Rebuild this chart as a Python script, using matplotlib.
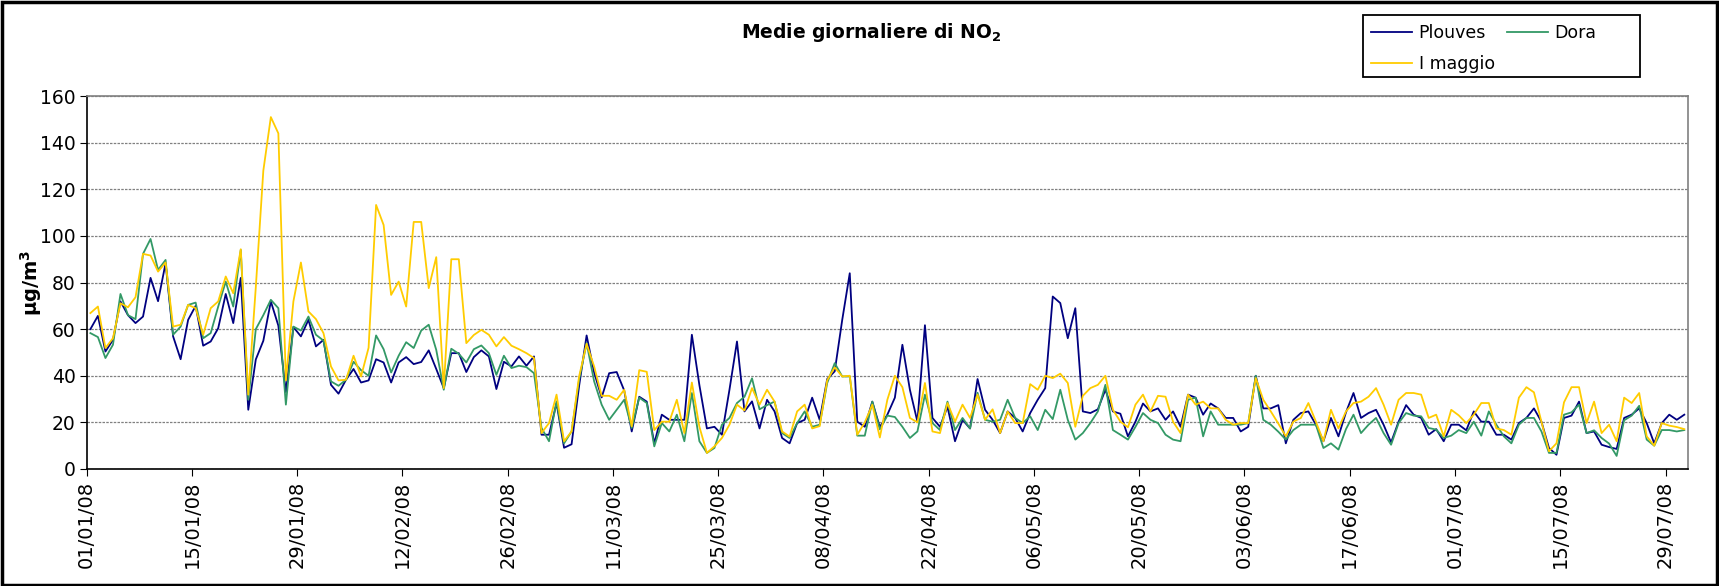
import matplotlib.pyplot as plt
import matplotlib.patches as mpatches
import numpy as np

# valori giornalieri NO2 (µg/m3), dal 01/01/08 al 31/07/08
plouves = [
    60, 65.7, 50.4, 55.4, 71.9, 66, 62.6, 65.4, 82, 72,
    88.3, 56.9, 47.1, 64, 70, 52.9, 54.7, 60.4, 75.1, 62.6,
    82, 25.4, 47, 55, 71.9, 61.5, 33, 60.9, 56.9, 64,
    52.6, 55.4, 36.1, 32.3, 38.3, 42.9, 37.1, 38, 47.1, 45.7,
    37.1, 45.7, 48, 45, 45.9, 50.9, 42.9, 34.7, 49.7, 49.7,
    41.6, 48, 50.9, 48.3, 34.3, 46, 44, 48.3, 44.3, 48.3,
    14.7, 14.7, 28.3, 9.1, 10.6, 35.6, 57.3, 41.4, 30.7, 41.1,
    41.6, 33.7, 16.1, 31, 28.9, 11, 23.3, 21.1, 21.1, 21.1,
    57.6, 36, 17.4, 18.1, 14.7, 34, 54.7, 24.7, 29, 17.4,
    29.7, 24.7, 13.3, 11, 19.7, 21.1, 30.6, 21.1, 38.6, 41.9,
    64, 84, 20.3, 18.1, 28.9, 18, 23.3, 30.6, 53.3, 34,
    20.3, 61.7, 21.9, 18.1, 26.7, 11.9, 21.1, 17.4, 38.6, 25.4,
    21.1, 15.4, 24.7, 21.9, 16.1, 24, 29.7, 34.7, 74, 71.2,
    56.1, 69, 24.7, 24, 25.6, 34, 24.7, 23.7, 14, 20.3,
    28.1, 24.7, 26, 21.1, 24.7, 18.1, 31.9, 30.6, 23.3, 28.1,
    26, 21.9, 21.9, 16.1, 18.1, 40, 26, 26, 27.4, 11,
    21.1, 24, 24.7, 19, 11.9, 21.9, 14, 24.3, 32.6, 21.9,
    24, 25.4, 19, 11.4, 20.3, 27.4, 23.3, 21.9, 14.7, 17.1,
    11.9, 19, 19, 16.6, 24.7, 20.3, 20.3, 14.7, 14.7, 12.6,
    19.7, 21.9, 26, 20.3, 9, 6.1, 21.9, 22.9, 28.9, 15.4,
    16.1, 10.4, 9.4, 8.6, 21.9, 23.3, 26, 19.7, 11, 19.7,
    23.3, 21.1, 23.3,
]
dora = [
    58.3, 56.6, 47.6, 53.3, 75.1, 66, 64.3, 92.3, 98.7, 85.4,
    89.7, 57.6, 61.1, 70.4, 71.4, 56.1, 58.3, 69.7, 80.4, 69.7,
    94, 29.7, 60, 66, 72.6, 69, 27.6, 61.1, 59.4, 65.4,
    57.6, 55.1, 37.6, 35.7, 38.3, 46, 42.4, 40, 57.3, 51.4,
    41.4, 48.6, 54.4, 51.9, 59.4, 61.9, 51.1, 34, 51.6, 49.4,
    45.7, 51.4, 53, 49.7, 40.4, 48.6, 43.3, 44.3, 43.7, 41.1,
    17.6, 11.9, 29, 11, 16.1, 38.3, 54, 37.6, 27.6, 21.1,
    25.4, 29.7, 17.6, 30.6, 28.3, 9.7, 19.7, 16.1, 23.3, 11.9,
    32.6, 11.9, 6.9, 9, 19, 21.9, 28.3, 31, 38.9, 25.6,
    27.4, 28.9, 15.4, 13.3, 19.7, 24.7, 18.1, 19, 36.9, 45.4,
    39.7, 39.7, 14.3, 14.3, 28.9, 17, 22.9, 22.3, 18.1, 13.3,
    16.1, 31.9, 19.7, 16.7, 28.9, 16.7, 21.9, 17.4, 32.7, 21.1,
    20.3, 21.1, 29.7, 21.9, 19.7, 22.6, 16.7, 25.4, 21.4, 34,
    21.1, 12.6, 15.4, 19.7, 24.7, 36.1, 16.7, 14.7, 12.6, 18.1,
    24, 21.1, 19.7, 14.7, 12.6, 11.9, 29.7, 30.6, 14, 24.7,
    19, 19, 19, 19, 19.7, 40, 21.1, 19, 16, 12.6,
    16.7, 19, 19, 19, 9, 11, 8.3, 17.1, 23.3, 15.4,
    19, 21.9, 15.4, 10.4, 19.7, 24, 22.9, 22.6, 17.6, 16.9,
    13.3, 14.3, 16.7, 15.4, 20.3, 14.3, 24.7, 19, 14, 11,
    19, 21.9, 21.9, 16.1, 6.9, 6.9, 23.3, 24.3, 27.6, 15.4,
    16.6, 13.3, 10.9, 5.6, 20.9, 22.9, 27.1, 12.6, 10, 16.7,
    16.7, 16.1, 16.7,
]
imaggio = [
    66.9, 69.7, 51.9, 56.1, 71.1, 69.4, 73.7, 92.3, 91.6, 84.7,
    88.6, 61.1, 61.9, 70.4, 69, 57.6, 69, 71.9, 82.6, 75.4,
    94.3, 31.9, 78, 128, 151, 144, 38, 71.9, 88.6, 67.6,
    64.3, 58.3, 44, 38, 38.3, 48.6, 39.7, 52, 113.3, 104.7,
    74.7, 80.4, 69.7, 106, 106, 77.6, 90.9, 34.7, 90, 90,
    54, 57.5, 59.7, 57.6, 52.6, 56.6, 52.9, 51.4, 49.7, 47.6,
    15.4, 19.7, 31.9, 11.9, 16.1, 39.7, 53.7, 44, 31.4, 31.4,
    29.7, 34, 18.3, 42.4, 41.7, 16.7, 20.3, 20.3, 29.7, 15.4,
    37.1, 18.1, 6.9, 9.7, 13.3, 19, 27.6, 25.1, 34.7, 27.6,
    34, 28.9, 16.1, 13.9, 24.7, 27.6, 17.4, 18.4, 38.1, 43.6,
    39.7, 40, 14.7, 20, 27.6, 13.5, 29.7, 40, 35.1, 21.9,
    20, 36.9, 16.1, 15.4, 28.3, 20.3, 27.6, 21.9, 31.9, 21.1,
    25.6, 15.4, 24.7, 19.7, 19.7, 36.4, 34, 40, 39, 40.9,
    36.9, 18.1, 31.4, 34.7, 36.1, 40, 25.4, 20.3, 17.9, 27.6,
    31.9, 24.7, 31.4, 31, 20.3, 15.4, 31.9, 27.6, 28.9, 26,
    26, 21.1, 19, 19.7, 19.7, 39, 29.7, 24.7, 19.5, 14,
    20.3, 21.9, 28.3, 20.3, 11.9, 25.4, 17.4, 24.7, 28.3, 28.9,
    31, 34.7, 27.6, 19, 29.7, 32.6, 32.6, 31.9, 21.9, 23.3,
    14, 25.4, 23, 19.7, 23.3, 28.3, 28.3, 17.4, 16.7, 14.7,
    30.6, 35.1, 32.9, 20.3, 7.6, 11, 28.6, 35.1, 35.1, 19.7,
    28.9, 15.4, 19, 11.9, 30.6, 28.3, 32.6, 14, 10, 19.7,
    18.6, 18, 17.1,
]

tick_labels = ['01/01/08', '15/01/08', '29/01/08', '12/02/08', '26/02/08',
               '11/03/08', '25/03/08', '08/04/08', '22/04/08', '06/05/08',
               '20/05/08', '03/06/08', '17/06/08', '01/07/08', '15/07/08',
               '29/07/08']

n_days = len(plouves)
x = np.arange(n_days) + 0.5  # punto al centro del giorno, come in Excel

W, H = 1719, 586
fig = plt.figure(figsize=(W / 100, H / 100), dpi=100)
ax = fig.add_axes([0.0504, 0.1997, 0.9316, 0.6363])

l1, = ax.plot(x, plouves, color='#000080', lw=1.3, label='Plouves')
l2, = ax.plot(x, dora, color='#339966', lw=1.3, label='Dora')
l3, = ax.plot(x, imaggio, color='#FFCC00', lw=1.3, label='I maggio')

ax.set_xlim(0, n_days)
ax.set_ylim(0, 160)
ax.set_yticks(np.arange(0, 161, 20))
ax.set_xticks(np.arange(0, 14 * len(tick_labels), 14))
ax.set_xticklabels(tick_labels, rotation=90, fontsize=14)
ax.tick_params(axis='y', labelsize=13.5, direction='out', length=5, pad=3)
ax.tick_params(axis='x', direction='out', length=5)

ax.yaxis.grid(True, color='#808080', linestyle=(0, (2, 1)), lw=0.9)
ax.set_axisbelow(True)
for s in ['top', 'right']:
    ax.spines[s].set_color('#808080')
    ax.spines[s].set_linewidth(1.2)
for s in ['left', 'bottom']:
    ax.spines[s].set_color('black')
    ax.spines[s].set_linewidth(1.2)

ax.set_ylabel('µg/m$^\\mathbf{3}$', fontsize=14, fontweight='bold', labelpad=-3)
fig.text(0.507, 0.944, 'Medie giornaliere di NO$_\\mathbf{2}$', ha='center', va='center',
         fontsize=13.5, fontweight='bold')

# legenda senza cornice + riquadro disegnato a parte
leg = fig.legend([l1, l3, l2], ['Plouves', 'I maggio', 'Dora'], ncol=2,
                 loc='upper left', bbox_to_anchor=(1356 / W, 1 - 9 / H),
                 fontsize=12.5, frameon=False,
                 handlelength=2.4, handletextpad=0.35, columnspacing=0.7,
                 borderpad=0.35, labelspacing=0.74)
fig.patches.append(mpatches.Rectangle((1362.7 / W, 1 - 77 / H), (1640 - 1362.7) / W, 62 / H,
                                      transform=fig.transFigure, fill=False,
                                      edgecolor='black', lw=1.3))

# bordo esterno
fig.patches.append(mpatches.Rectangle((0.001, 0.001), 0.998, 0.996, transform=fig.transFigure,
                                      fill=False, edgecolor='black', lw=2.5))

fig.savefig('out.png', dpi=100)
